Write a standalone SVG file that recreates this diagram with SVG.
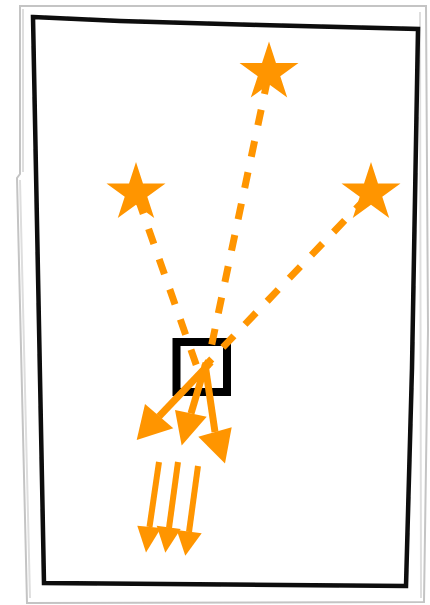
<svg xmlns="http://www.w3.org/2000/svg" width="430" height="605" viewBox="0 0 430 605">
  <style>
    .paper { fill: #ffffff; stroke: #c4c4c4; stroke-width: 2; stroke-linejoin: miter; }
    .paper-shade { fill: none; stroke: #dedede; stroke-width: 2; }
    .board { fill: #ffffff; stroke: #0a0a0a; stroke-width: 4.5; stroke-linejoin: miter; }
    .star { fill: #FF9500; }
    .player { fill: none; stroke: #000000; stroke-width: 8; }
    .run { fill: none; stroke: #FF9500; stroke-width: 7; stroke-dasharray: 16 16; stroke-dashoffset: 26; }
    .pass { fill: none; stroke: #FF9500; stroke-width: 7; }
    .shot { fill: none; stroke: #FF9500; stroke-width: 6; }
    .head { fill: #FF9500; }
  </style>
  <defs>
    <path id="starShape" d="M0,-31 L6.97,-9.59 L29.48,-9.58 L11.27,3.66 L18.22,25.08 L0,11.85 L-18.22,25.08 L-11.27,3.66 L-29.48,-9.58 L-6.97,-9.59 Z"/>
    <filter id="soft" x="-5%" y="-5%" width="110%" height="110%">
      <feGaussianBlur stdDeviation="0.6"/>
    </filter>
  </defs>

  <rect x="0" y="0" width="430" height="605" fill="#ffffff"/>

  <g id="paper" filter="url(#soft)">
    <path class="paper" d="M20,6 L426,6 L428,330 L424,602 L27,603 L17,178 L20,174 Z"/>
    <path class="paper-shade" d="M23,9 L23,172 M20,180 L30,598 M420,12 L421,598"/>
  </g>

  <g id="board" filter="url(#soft)">
    <path class="board" d="M33,17 L120,21 L260,25 L418,29 L412,368 L406,586 L44,583 Z"/>
  </g>

  <g id="player">
    <rect class="player" x="176.5" y="342" width="50.5" height="50"/>
  </g>

  <g id="connectors">
    <line class="run" x1="136" y1="193" x2="197" y2="367"/>
    <line class="run" x1="269" y1="72.5" x2="207" y2="367"/>
    <line class="run" x1="371" y1="193" x2="205" y2="366"/>

    <line class="pass" x1="211" y1="362" x2="159" y2="416.5"/>
    <polygon class="head" points="145,404 173.3,428.3 136.7,440"/>
    <line class="pass" x1="206" y1="363" x2="191" y2="413.5"/>
    <polygon class="head" points="175,410 206.7,416.7 181.7,445.5"/>
    <line class="pass" x1="205" y1="364" x2="215" y2="432"/>
    <polygon class="head" points="198.3,436.7 231.7,427.3 225,463.5"/>

    <line class="shot" x1="159" y1="462" x2="149.5" y2="527"/>
    <polygon class="head" points="137.3,525.7 161,528 146,552.5"/>
    <line class="shot" x1="178" y1="462" x2="169" y2="528"/>
    <polygon class="head" points="156.7,525.7 180.7,529 165.3,552.7"/>
    <line class="shot" x1="198" y1="466" x2="189" y2="532"/>
    <polygon class="head" points="176.7,530 201.7,533.3 185.3,555.7"/>
  </g>

  <g id="star-top"><use href="#starShape" class="star" x="269" y="72.5"/></g>
  <g id="star-left"><use href="#starShape" class="star" x="136" y="193"/></g>
  <g id="star-right"><use href="#starShape" class="star" x="371" y="193"/></g>
</svg>
